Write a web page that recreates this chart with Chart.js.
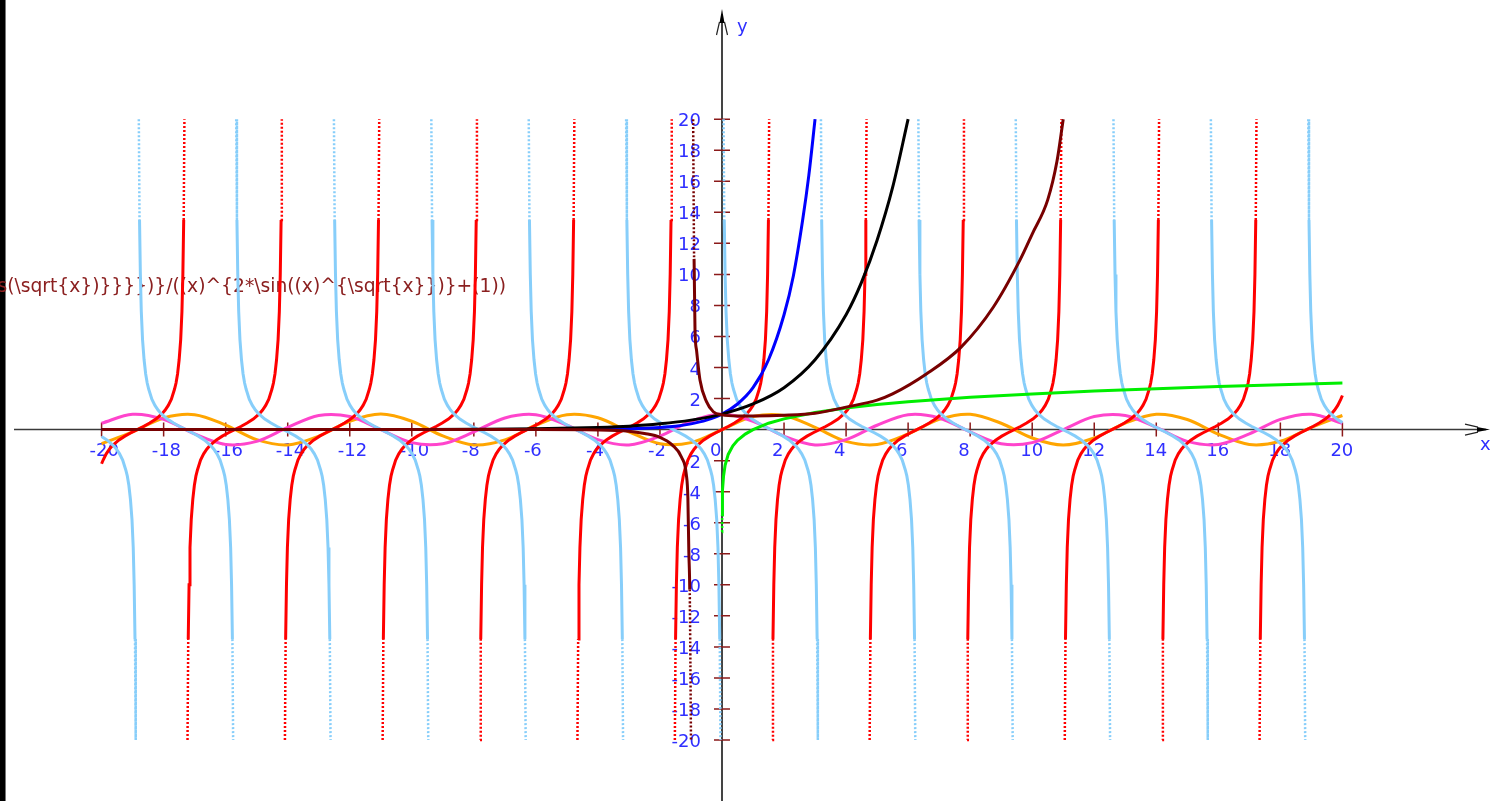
<!DOCTYPE html>
<html>
<head>
<meta charset="utf-8">
<title>Function plot</title>
<script src="https://cdn.jsdelivr.net/npm/chart.js@4.4.1/dist/chart.umd.min.js"></script>
<style>
  html, body { margin: 0; padding: 0; background: #fff; overflow: hidden; }
  #plot { display: block; }
</style>
</head>
<body>
<canvas id="plot" width="1490" height="801"></canvas>
<script>
// tick labels on the two axes
const xTickLabels = [-20, -18, -16, -14, -12, -10, -8, -6, -4, -2, 0, 2, 4, 6, 8, 10, 12, 14, 16, 18, 20];
const yTickLabels = [-20, -18, -16, -14, -12, -10, -8, -6, -4, -2, 2, 4, 6, 8, 10, 12, 14, 16, 18, 20];

// text written at the left, the start of it runs off the picture
const formulaText = 's(\\sqrt{x})}}}})}/((x)^{2*\\sin((x)^{\\sqrt{x}})}+(1))';

const tanZeroX = [-18.85, -15.71, -12.57, -9.42, -6.28, -3.14, 0, 3.14, 6.28, 9.42, 12.57, 15.71, 18.85];
const branchOffset = [-1.52, -1.497, -1.47, -1.44, -1.4, -1.35, -1.3, -1.25, -1.2, -1.1, -1.0, -0.9, -0.8, -0.6, -0.4, -0.2, 0,
                      0.2, 0.4, 0.6, 0.8, 0.9, 1.0, 1.1, 1.2, 1.25, 1.3, 1.35, 1.4, 1.44, 1.47, 1.497, 1.52];
const tanBranch = [-20, -13.5, -10, -7.6, -5.8, -4.5, -3.6, -3.0, -2.6, -1.96, -1.56, -1.26, -1.03, -0.68, -0.42, -0.2, 0,
                   0.2, 0.42, 0.68, 1.03, 1.26, 1.56, 1.96, 2.6, 3.0, 3.6, 4.5, 5.8, 7.6, 10, 13.5, 20];
const tanEnds = [-2.2, 2.2];   // values at x = -20 and x = 20

// light blue branches
const cotZeroX = [-20.42, -17.28, -14.14, -10.99, -7.85, -4.71, -1.57, 1.57, 4.71, 7.85, 10.99, 14.14, 17.28, 20.42];
const cotBranch = [20, 13.5, 10, 7.6, 5.8, 4.5, 3.6, 3.0, 2.6, 1.96, 1.56, 1.26, 1.03, 0.68, 0.42, 0.2, 0,
                   -0.2, -0.42, -0.68, -1.03, -1.26, -1.56, -1.96, -2.6, -3.0, -3.6, -4.5, -5.8, -7.6, -10, -13.5, -20];
const cotEnds = [-0.45, 0.45];

// orange and pink waves, one value per unit of x
const waveX = [-20, -19, -18, -17, -16, -15, -14, -13, -12, -11, -10, -9, -8, -7, -6, -5, -4, -3, -2, -1, 0,
               1, 2, 3, 4, 5, 6, 7, 8, 9, 10, 11, 12, 13, 14, 15, 16, 17, 18, 19, 20];
const orangeY = [-0.91, -0.15, 0.75, 0.96, 0.29, -0.65, -0.99, -0.42, 0.54, 1.0, 0.54, -0.41, -0.99, -0.66, 0.28, 0.96, 0.76, -0.14, -0.91, -0.84, 0,
                 0.84, 0.91, 0.14, -0.76, -0.96, -0.28, 0.66, 0.99, 0.41, -0.54, -1.0, -0.54, 0.42, 0.99, 0.65, -0.29, -0.96, -0.75, 0.15, 0.91];
const pinkY = [0.41, 0.99, 0.66, -0.28, -0.96, -0.76, 0.14, 0.91, 0.84, 0, -0.84, -0.91, -0.15, 0.75, 0.96, 0.28, -0.65, -0.99, -0.42, 0.54, 1.0,
               0.54, -0.42, -0.99, -0.65, 0.28, 0.96, 0.75, -0.15, -0.91, -0.84, 0, 0.84, 0.91, 0.14, -0.76, -0.96, -0.28, 0.66, 0.99, 0.41];

// blue curve
const blueX = [-20, -8, -6, -5, -4, -3, -2, -1.5, -1, -0.5, 0, 0.5, 1, 1.5, 2, 2.3, 2.6, 2.8, 3.0];
const blueY = [0, 0, 0, 0.01, 0.02, 0.05, 0.14, 0.22, 0.37, 0.61, 1.0, 1.65, 2.7, 4.5, 7.4, 9.9, 13.5, 16.4, 20];

// black curve
const blackX = [-20, -10, -8, -6, -4, -3, -2, -1, 0, 1, 2, 3, 4, 4.5, 5, 5.5, 6.0];
const blackY = [0, 0.01, 0.02, 0.05, 0.14, 0.22, 0.37, 0.61, 1.0, 1.65, 2.7, 4.5, 7.4, 9.5, 12.2, 15.6, 20];

// green curve
const greenX = [0.0013, 0.004, 0.01, 0.02, 0.05, 0.1, 0.2, 0.35, 0.5, 0.75, 1, 1.5, 2, 3, 4, 5, 6, 8, 10, 12, 14, 16, 18, 20];
const greenY = [-6.6, -5.5, -4.6, -3.9, -3.0, -2.3, -1.6, -1.05, -0.69, -0.29, 0, 0.41, 0.69, 1.1, 1.39, 1.61, 1.79, 2.08, 2.3, 2.48, 2.64, 2.77, 2.89, 3.0];

// dark red curve (null = break at x = -1)
const maroonX = [-20, -6, -4, -3, -2.5, -2, -1.6, -1.3, -1.15, -1.1, -1.07, -1.04, -1.0, -0.96, -0.93, -0.9, -0.87, -0.82, -0.71, -0.5, -0.28, 0,
                 0.5, 1, 2, 3, 4, 5, 5.5, 6.6, 7.7, 8.75, 9.6, 10, 10.5, 10.8, 11];
const maroonY = [0, 0, -0.02, -0.1, -0.25, -0.5, -1.0, -1.8, -2.9, -4.4, -7.8, -10.3, -20, null, 20, 11, 6.4, 5.1, 3.2, 1.8, 1.15, 0.95,
                 0.88, 0.88, 0.92, 1.05, 1.45, 1.9, 2.3, 3.6, 5.3, 7.9, 10.9, 12.6, 14.8, 17.3, 20];

function pairs(xs, ys) {
    return xs.map((x, i) => ({ x: x, y: ys[i] }));
}

// one branch per crossing, cut at x = -20 / 20, with a break between branches
function branches(zeros, offsets, values, ends) {
    const pts = [];
    zeros.forEach((z, i) => {
        if (i > 0) pts.push({ x: (z + zeros[i - 1]) / 2, y: null });
        const part = [];
        offsets.forEach((d, j) => {
            const x = z + d;
            if (x >= -20 && x <= 20) part.push({ x: x, y: values[j] });
        });
        if (z + offsets[0] < -20) part.unshift({ x: -20, y: ends[0] });
        if (z + offsets[offsets.length - 1] > 20) part.push({ x: 20, y: ends[1] });
        pts.push(...part);
    });
    return pts;
}

// near the asymptotes the plot only shows dots
function dottedWhenSteep(limit) {
    const steep = ctx => ctx.p0.parsed.y !== null && ctx.p1.parsed.y !== null &&
        Math.abs(ctx.p1.parsed.y - ctx.p0.parsed.y) > limit;
    return {
        borderDash: ctx => steep(ctx) ? [2, 2] : undefined,
        borderWidth: ctx => steep(ctx) ? 2.5 : undefined
    };
}

const tickBlue = '#2f2fff';
const tickRed = '#8b1a1a';

const axesPlugin = {
    id: 'centredAxes',
    beforeDraw(chart) {
        const ctx = chart.ctx;
        ctx.save();
        ctx.fillStyle = '#fff';
        ctx.fillRect(0, 0, chart.width, chart.height);
        ctx.restore();
    },
    beforeDatasetsDraw(chart) {
        const ctx = chart.ctx;
        const xs = chart.scales.x, ys = chart.scales.y;
        const x0 = xs.getPixelForValue(0), y0 = ys.getPixelForValue(0);
        ctx.save();

        // dark strip down the left edge
        ctx.fillStyle = '#000';
        ctx.fillRect(0, 0, 5, chart.height);
        ctx.fillStyle = '#777';
        ctx.fillRect(5, 0, 1, chart.height);

        // axis lines
        ctx.strokeStyle = '#3a3a3a';
        ctx.lineWidth = 1.5;
        ctx.beginPath();
        ctx.moveTo(14, y0); ctx.lineTo(1486, y0);
        ctx.stroke();
        ctx.lineWidth = 2;
        ctx.strokeStyle = '#444';
        ctx.beginPath();
        ctx.moveTo(x0, 14); ctx.lineTo(x0, chart.height);
        ctx.stroke();

        // arrow heads
        ctx.fillStyle = '#000';
        ctx.beginPath();
        ctx.moveTo(x0, 9); ctx.lineTo(x0 - 2.5, 23); ctx.lineTo(x0 + 2.5, 23); ctx.closePath();
        ctx.fill();
        ctx.beginPath();
        ctx.moveTo(1490, y0); ctx.lineTo(1477, y0 - 2.5); ctx.lineTo(1477, y0 + 2.5); ctx.closePath();
        ctx.fill();
        ctx.strokeStyle = '#222';
        ctx.lineWidth = 1.2;
        ctx.beginPath();
        ctx.moveTo(x0 - 2.5, 22); ctx.lineTo(x0 - 5.5, 35);
        ctx.moveTo(x0 + 2.5, 22); ctx.lineTo(x0 + 5.5, 35);
        ctx.moveTo(1478, y0 - 2.5); ctx.lineTo(1465, y0 - 5.5);
        ctx.moveTo(1478, y0 + 2.5); ctx.lineTo(1465, y0 + 5.5);
        ctx.stroke();

        // tick marks, crossing the axes
        ctx.strokeStyle = tickRed;
        ctx.lineWidth = 1.5;
        ctx.beginPath();
        xTickLabels.forEach(v => {
            if (v === 0) return;
            const px = xs.getPixelForValue(v);
            ctx.moveTo(px, y0 - 7); ctx.lineTo(px, y0 + 7);
        });
        yTickLabels.forEach(v => {
            const py = ys.getPixelForValue(v);
            ctx.moveTo(x0 - 8, py); ctx.lineTo(x0 + 8, py);
        });
        ctx.stroke();

        // tick labels
        ctx.font = '18px "DejaVu Sans"';
        ctx.fillStyle = tickBlue;
        ctx.textBaseline = 'alphabetic';
        ctx.textAlign = 'left';
        xTickLabels.forEach(v => {
            ctx.fillText(String(v), xs.getPixelForValue(v) - 12, y0 + 26);
        });
        ctx.textAlign = 'right';
        yTickLabels.forEach(v => {
            ctx.fillText(String(v), x0 - 21, ys.getPixelForValue(v) + 7);
        });

        // axis names
        ctx.textAlign = 'left';
        ctx.fillText('y', x0 + 15, 32);
        ctx.fillText('x', 1480, y0 + 20);

        // formula text
        ctx.font = '18.7px "DejaVu Sans"';
        ctx.fillStyle = '#8b2020';
        ctx.textAlign = 'right';
        ctx.fillText(formulaText, 506, 292);

        ctx.restore();
    }
};

const datasets = [
    { label: 'darkred', data: pairs(maroonX, maroonY), borderColor: '#780000', cubicInterpolationMode: 'monotone', segment: dottedWhenSteep(6) },
    { label: 'green', data: pairs(greenX, greenY), borderColor: '#00ee00', tension: 0, segment: dottedWhenSteep(1.05) },
    { label: 'black', data: pairs(blackX, blackY), borderColor: '#000000', cubicInterpolationMode: 'monotone' },
    { label: 'blue', data: pairs(blueX, blueY), borderColor: '#0000ff', cubicInterpolationMode: 'monotone' },
    { label: 'lightblue', data: branches(cotZeroX, branchOffset, cotBranch, cotEnds), borderColor: '#87cefa', tension: 0, segment: dottedWhenSteep(5) },
    { label: 'red', data: branches(tanZeroX, branchOffset, tanBranch, tanEnds), borderColor: '#ff0000', tension: 0, segment: dottedWhenSteep(5) },
    { label: 'pink', data: pairs(waveX, pinkY), borderColor: '#ff44cc', tension: 0.33 },
    { label: 'orange', data: pairs(waveX, orangeY), borderColor: '#ffa500', tension: 0.33 }
];

new Chart(document.getElementById('plot'), {
    type: 'scatter',
    data: {
        datasets: datasets.map(d => Object.assign({
            showLine: true,
            pointRadius: 0,
            borderWidth: 3,
            spanGaps: false,
            fill: false
        }, d))
    },
    options: {
        responsive: false,
        devicePixelRatio: 1,
        animation: false,
        events: [],
        layout: { padding: 0 },
        plugins: { legend: { display: false }, tooltip: { enabled: false } },
        scales: {
            x: { type: 'linear', min: -23.275, max: 24.758, display: false },
            y: { type: 'linear', min: -23.93, max: 27.68, display: false }
        }
    },
    plugins: [axesPlugin]
});
</script>
</body>
</html>
